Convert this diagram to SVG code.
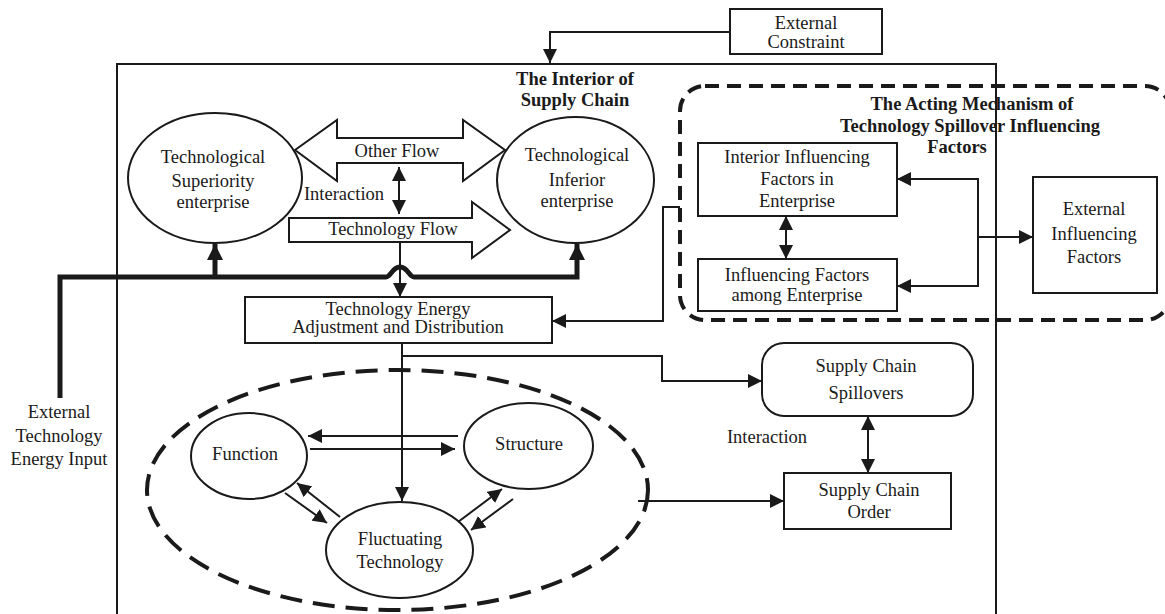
<svg xmlns="http://www.w3.org/2000/svg" width="1165" height="614" viewBox="0 0 1165 614">
<style>
text{font-family:'Liberation Serif','Tinos','Times New Roman','DejaVu Serif',serif;font-size:18.5px;fill:#1a1a1a;text-anchor:middle}
.b{font-weight:bold}
.s{fill:none;stroke:#1a1a1a;stroke-width:2}
.f{fill:#fff;stroke:#1a1a1a;stroke-width:2}
.c{fill:none;stroke:#1a1a1a;stroke-width:2}
.t{fill:none;stroke:#1a1a1a;stroke-width:5;stroke-linejoin:miter}
.d{fill:none;stroke:#1a1a1a;stroke-width:4;stroke-dasharray:14 8}
.de{fill:none;stroke:#1a1a1a;stroke-width:4;stroke-dasharray:22 11}
</style>
<defs>
<marker id="a" viewBox="0 0 10 10" refX="10" refY="5" markerWidth="14" markerHeight="14" markerUnits="userSpaceOnUse" orient="auto-start-reverse"><path d="M0,0 L10,5 L0,10 z" fill="#1a1a1a"/></marker>
<marker id="at" viewBox="0 0 10 10" refX="10" refY="5" markerWidth="16" markerHeight="20" markerUnits="userSpaceOnUse" orient="auto"><path d="M0,0 L10,5 L0,10 z" fill="#1a1a1a"/></marker>
</defs>

<g id="interior-frame">
<path class="s" d="M117,620 V64 H996 V620"/>
<text class="b" x="575" y="85">The Interior of</text>
<text class="b" x="575" y="106">Supply Chain</text>
</g>

<g id="mechanism-frame">
<rect class="d" x="680" y="86" width="490" height="234" rx="25"/>
<text class="b" x="972" y="110">The Acting Mechanism of</text>
<text class="b" x="970" y="132">Technology Spillover Influencing</text>
<text class="b" x="957" y="153">Factors</text>
</g>

<g id="external-constraint">
<rect class="f" x="730" y="9" width="152" height="45"/>
<text x="806" y="29">External</text>
<text x="806" y="48">Constraint</text>
</g>

<g id="superiority">
<ellipse class="f" cx="215" cy="178" rx="87" ry="65"/>
<text x="213" y="163">Technological</text>
<text x="213" y="187">Superiority</text>
<text x="213" y="208">enterprise</text>
</g>

<g id="inferior">
<ellipse class="f" cx="575.5" cy="180" rx="78.5" ry="63"/>
<text x="577" y="161">Technological</text>
<text x="577" y="186">Inferior</text>
<text x="577" y="207">enterprise</text>
</g>

<g id="other-flow">
<polygon class="f" points="295,150 337,120 337,138 463,138 463,120 505,150 463,181 463,163 337,163 337,181"/>
<text x="397" y="157">Other Flow</text>
</g>

<g id="technology-flow">
<polygon class="f" points="289,218 472,218 472,202 510,230 472,258 472,242 289,242"/>
<text x="393" y="235">Technology Flow</text>
</g>

<g id="interaction-label">
<text x="344" y="200">Interaction</text>
</g>

<g id="tead">
<rect class="f" x="245" y="297" width="307" height="46"/>
<text x="398" y="315">Technology Energy</text>
<text x="398" y="333">Adjustment and Distribution</text>
</g>

<g id="external-input">
<text x="59" y="418">External</text>
<text x="59" y="442">Technology</text>
<text x="59" y="465">Energy Input</text>
</g>

<g id="interior-factors">
<rect class="f" x="698" y="143" width="199" height="73"/>
<text x="797" y="163">Interior Influencing</text>
<text x="797" y="185">Factors in</text>
<text x="797" y="207">Enterprise</text>
</g>

<g id="among-factors">
<rect class="f" x="698" y="259" width="199" height="52"/>
<text x="797" y="281">Influencing Factors</text>
<text x="797" y="301">among Enterprise</text>
</g>

<g id="external-factors">
<rect class="f" x="1033" y="177" width="124" height="116"/>
<text x="1094" y="215">External</text>
<text x="1094" y="240">Influencing</text>
<text x="1094" y="263">Factors</text>
</g>

<g id="wave-region">
<ellipse class="de" cx="397.5" cy="490" rx="250.5" ry="120"/>
</g>

<g id="function">
<ellipse class="f" cx="249" cy="456" rx="58" ry="43"/>
<text x="245" y="460">Function</text>
</g>

<g id="structure">
<ellipse class="f" cx="528.5" cy="446" rx="64.5" ry="43"/>
<text x="529" y="450">Structure</text>
</g>

<g id="fluctuating">
<ellipse class="f" cx="399.5" cy="550" rx="73.5" ry="48"/>
<text x="400" y="545">Fluctuating</text>
<text x="400" y="568">Technology</text>
</g>

<g id="spillovers">
<rect class="f" x="762" y="343" width="211" height="73" rx="22"/>
<text x="866" y="372">Supply Chain</text>
<text x="866" y="399">Spillovers</text>
</g>

<g id="order">
<rect class="f" x="784" y="473" width="167" height="56"/>
<text x="869" y="496">Supply Chain</text>
<text x="869" y="518">Order</text>
</g>

<g id="interaction-label-2">
<text x="767" y="443">Interaction</text>
</g>

<g id="connectors">
<path class="c" d="M730,32 H550 V63" marker-end="url(#a)"/>
<path class="c" d="M399,167 V214" marker-start="url(#a)" marker-end="url(#a)"/>
<path class="c" d="M400,242 V297" marker-end="url(#a)"/>
<path class="t" d="M60,398 V277 H386 C391,277 392,267 400,267 C408,267 409,277 414,277 H577 V244" marker-end="url(#at)"/>
<path class="t" d="M215,277 V244" marker-end="url(#at)"/>
<path class="c" d="M680,207 H663 V321 H552" marker-end="url(#a)"/>
<path class="c" d="M402,343 V501" marker-end="url(#a)"/>
<path class="c" d="M402,356 H662 V381 H762" marker-end="url(#a)"/>
<path class="c" d="M458,436 H308" marker-end="url(#a)"/>
<path class="c" d="M310,449 H455" marker-end="url(#a)"/>
<path class="c" d="M285,493 L327,523" marker-end="url(#a)"/>
<path class="c" d="M340,517 L297,483" marker-end="url(#a)"/>
<path class="c" d="M458,522 L502,489" marker-end="url(#a)"/>
<path class="c" d="M513,499 L471,530" marker-end="url(#a)"/>
<path class="c" d="M638,501 H784" marker-end="url(#a)"/>
<path class="c" d="M868,416 V473" marker-start="url(#a)" marker-end="url(#a)"/>
<path class="c" d="M786,216 V259" marker-start="url(#a)" marker-end="url(#a)"/>
<path class="c" d="M897,179 H978 V286 H897" marker-start="url(#a)" marker-end="url(#a)"/>
<path class="c" d="M978,237 H1033" marker-end="url(#a)"/>
</g>
</svg>
